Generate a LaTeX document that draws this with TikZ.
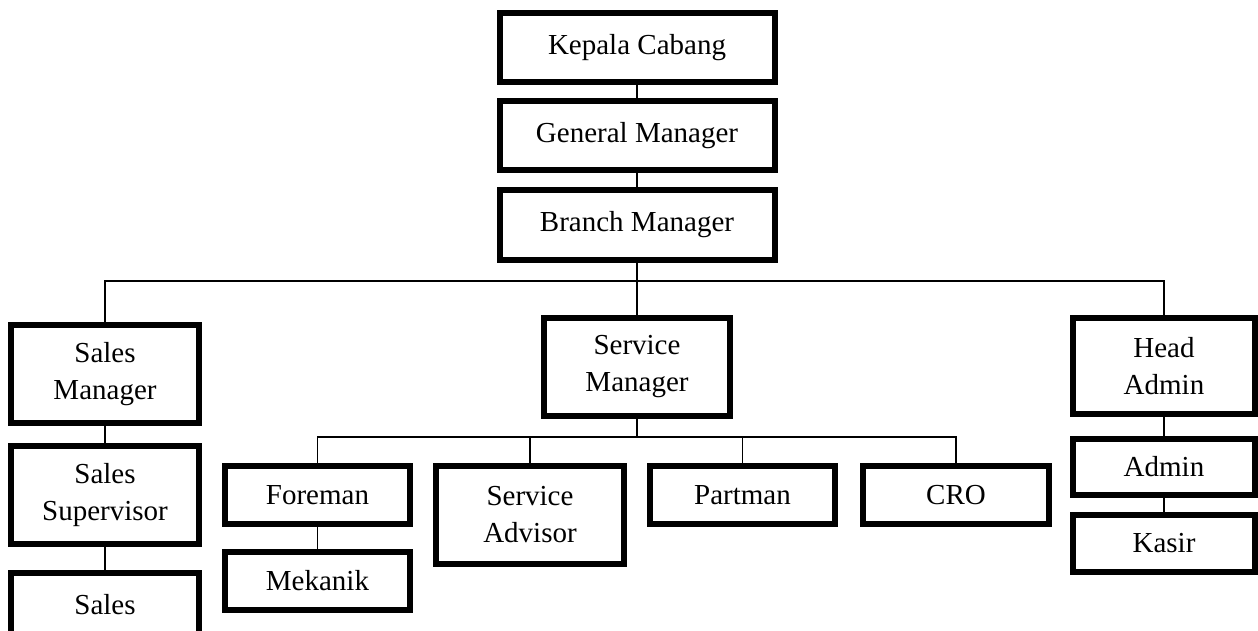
\documentclass[tikz,border=0pt]{standalone}
\usepackage{fontspec}
\setmainfont{Liberation Serif}
\usetikzlibrary{calc}

\tikzset{
  box/.style={draw, line width=3pt, inner sep=0pt, align=center,
    font=\fontsize{14.5}{18.5}\selectfont},
  conn/.style={line width=0.75pt}
}

\begin{document}
\begin{tikzpicture}[x=0.5pt, y=-0.5pt]
    \def\wTop{137.5pt}
    \def\wCol{92.5pt}
    \def\hOne{29pt}
    \def\hTwo{49pt}

    \useasboundingbox (0,0) rectangle (1258,631);

    % top chain
    \node[box, minimum width=\wTop, minimum height=34.5pt] (kepala) at (637,48) {Kepala Cabang};
    \node[box, minimum width=\wTop, minimum height=34.5pt] (general) at (637,135.5) {General Manager};
    \node[box, minimum width=\wTop, minimum height=35pt] (branch) at (637,225) {Branch Manager};

    % sales
    \node[box, minimum width=94pt, minimum height=\hTwo] (salesmgr) at (105,374) {Sales\\Manager};
    \node[box, minimum width=94pt, minimum height=\hTwo] (salessup) at (105,495) {Sales\\Supervisor};
    \node[box, minimum width=94pt, minimum height=32pt] (sales) at (105,605) {Sales};

    % service
    \node[box, minimum width=93pt, minimum height=\hTwo] (servmgr) at (637,367) {Service\\Manager};
    \node[box, minimum width=\wCol, minimum height=\hOne] (foreman) at (317.5,495) {Foreman};
    \node[box, minimum width=\wCol, minimum height=\hOne] (mekanik) at (317.5,581) {Mekanik};
    \node[box, minimum width=94pt, minimum height=\hTwo] (servadv) at (530,515) {Service\\Advisor};
    \node[box, minimum width=\wCol, minimum height=\hOne] (partman) at (742.5,495) {Partman};
    \node[box, minimum width=93pt, minimum height=\hOne] (cro) at (956,495) {CRO};

    % admin
    \node[box, minimum width=91pt, minimum height=48pt] (headadmin) at (1164,366) {Head\\Admin};
    \node[box, minimum width=91pt, minimum height=28pt] (admin) at (1164,467) {Admin};
    \node[box, minimum width=91pt, minimum height=28.5pt] (kasir) at (1164,543.5) {Kasir};

    \coordinate (bus) at (637,281);
    \coordinate (sbus) at (637,437);

    \draw[conn] (kepala) -- (general);
    \draw[conn] (general) -- (branch);
    \draw[conn] (branch.south) -- (bus);
    \draw[conn] (salesmgr.north) |- (bus) -| (headadmin.north);
    \draw[conn] (bus) -- (servmgr.north);

    \draw[conn] (servmgr.south) -- (sbus);
    \draw[conn] (foreman.north) |- (sbus) -| (cro.north);
    \draw[conn] (servadv.north) -- (servadv.north |- sbus);
    \draw[conn] (partman.north) -- (partman.north |- sbus);

    \draw[conn] (salesmgr) -- (salessup);
    \draw[conn] (salessup) -- (sales);
    \draw[conn] (foreman) -- (mekanik);
    \draw[conn] (headadmin) -- (admin);
    \draw[conn] (admin) -- (kasir);
\end{tikzpicture}
\end{document}
